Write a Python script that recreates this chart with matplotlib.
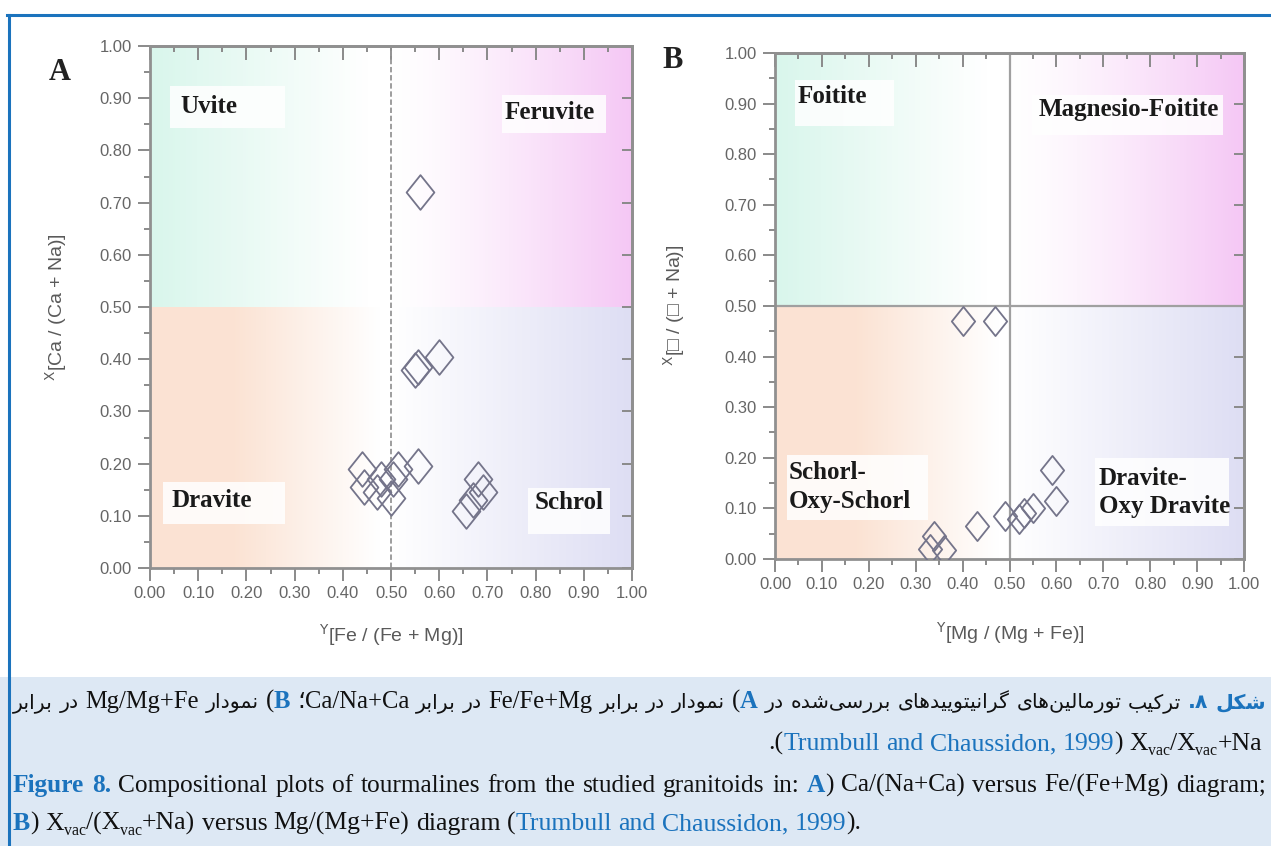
### Tourmaline classification plots (Ca/(Ca+Na) vs Fe/(Fe+Mg) and X-vacancy vs Mg/(Mg+Fe))

import numpy as np
import matplotlib.pyplot as plt
from matplotlib.path import Path
from matplotlib.patches import Rectangle
from matplotlib.lines import Line2D
from matplotlib.ticker import MultipleLocator, FormatStrFormatter, NullFormatter
from matplotlib.transforms import IdentityTransform

# Diagram A: Y[Fe/(Fe+Mg)] vs X[Ca/(Ca+Na)]
fe_ratio = [0.56, 0.55, 0.555, 0.60, 0.44, 0.445, 0.47, 0.48, 0.50, 0.505, 0.515, 0.555, 0.68, 0.69, 0.655, 0.67]
ca_ratio = [0.72, 0.38, 0.385, 0.405, 0.19, 0.155, 0.145, 0.17, 0.135, 0.17, 0.19, 0.195, 0.17, 0.145, 0.11, 0.13]

# Diagram B: Y[Mg/(Mg+Fe)] vs X[vac/(vac+Na)]
mg_ratio = [0.40, 0.47, 0.59, 0.60, 0.55, 0.53, 0.52, 0.49, 0.43, 0.34, 0.33, 0.36]
vac_ratio = [0.47, 0.47, 0.175, 0.115, 0.10, 0.09, 0.08, 0.085, 0.065, 0.045, 0.02, 0.017]

ticks = np.arange(0, 1.01, 0.1)

labels_a = ['Uvite', 'Feruvite', 'Dravite', 'Schrol']
labels_b = ['Foitite', 'Magnesio-Foitite', 'Schorl-\nOxy-Schorl', 'Dravite-\nOxy Dravite']

W, H = 1271, 846
BLUE = '#1b73bd'
fig = plt.figure(figsize=(W / 100, H / 100), dpi=100)
fig.patch.set_facecolor('white')

def fx(px):
    return px / W

def fy(py):
    return 1 - py / H

# caption band and blue frame
fig.patches.append(Rectangle((0, 0), 1, fy(677), transform=fig.transFigure,
                             facecolor='#dde8f4', edgecolor='none', zorder=0))
fig.lines.append(Line2D([fx(7), 1], [fy(15), fy(15)], transform=fig.transFigure,
                        color=BLUE, lw=2.2))
fig.lines.append(Line2D([fx(8.5), fx(8.5)], [0, fy(15)], transform=fig.transFigure,
                        color=BLUE, lw=2.2))

diamond = Path([(0, 1), (0.8, 0), (0, -1), (-0.8, 0), (0, 1)],
               [Path.MOVETO, Path.LINETO, Path.LINETO, Path.LINETO, Path.CLOSEPOLY])


def shade(ax, x0, y0, rgb, fade):
    t = np.linspace(0, 1, 256)
    a = fade(t)
    col = 1 - (1 - np.array(rgb))[None, :] * a[:, None]
    ax.imshow(col[None, :, :], extent=(x0, x0 + 0.5, y0, y0 + 0.5), aspect='auto',
              interpolation='bilinear', zorder=0)


def setup(ax):
    shade(ax, 0.0, 0.5, (0.85, 0.965, 0.925), lambda t: np.clip(1 - t / 0.9, 0, 1))
    shade(ax, 0.5, 0.5, (0.96, 0.78, 0.96), lambda t: t ** 1.3)
    shade(ax, 0.0, 0.0, (0.985, 0.89, 0.83), lambda t: np.clip((0.95 - t) / 0.6, 0, 1))
    shade(ax, 0.5, 0.0, (0.87, 0.87, 0.955), lambda t: t)
    ax.set_xlim(0, 1)
    ax.set_ylim(0, 1)
    for s in ax.spines.values():
        s.set_color('#909090')
        s.set_linewidth(2)
    ax.set_xticks(ticks)
    ax.set_yticks(ticks)
    ax.xaxis.set_minor_locator(MultipleLocator(0.05))
    ax.yaxis.set_minor_locator(MultipleLocator(0.05))
    ax.xaxis.set_major_formatter(FormatStrFormatter('%.2f'))
    ax.yaxis.set_major_formatter(FormatStrFormatter('%.2f'))
    ax.tick_params(which='both', direction='out', color='#8a8a8a', width=1.4,
                   labelcolor='#666666', labelsize=12)
    ax.tick_params(which='major', length=9, pad=4)
    ax.tick_params(which='minor', length=4.5)
    for lab in ax.get_xticklabels() + ax.get_yticklabels():
        lab.set_fontfamily('Liberation Sans')
    top = ax.secondary_xaxis('top')
    top.set_xticks(ticks)
    top.xaxis.set_minor_locator(MultipleLocator(0.05))
    top.xaxis.set_major_formatter(NullFormatter())
    top.tick_params(which='both', direction='in', color='#8a8a8a', width=1.4)
    top.tick_params(which='major', length=10)
    top.tick_params(which='minor', length=4)
    top.spines['top'].set_color('#909090')
    top.spines['top'].set_linewidth(2)
    right = ax.secondary_yaxis('right')
    right.set_yticks(ticks)
    right.yaxis.set_major_formatter(NullFormatter())
    right.tick_params(which='both', direction='in', color='#8a8a8a', width=1.4, length=7)
    right.spines['right'].set_color('#909090')
    right.spines['right'].set_linewidth(2)


def box(ax, x0, x1, y0, y1):
    ax.add_patch(Rectangle((x0, y0), x1 - x0, y1 - y0, facecolor='white',
                           edgecolor='none', alpha=0.85, zorder=3))


lab_kw = dict(fontfamily='Liberation Serif', fontweight='bold', fontsize=18,
              color='#1a1a1a', zorder=4, va='center')

# ---- panel A
axA = fig.add_axes([fx(150), fy(568), fx(632) - fx(150), fy(46) - fy(568)])
setup(axA)
axA.axvline(0.5, color='#959595', lw=1.3, ls=(0, (3, 1.5)), zorder=2)
box(axA, 0.041, 0.28, 0.843, 0.923)
box(axA, 0.73, 0.946, 0.833, 0.906)
box(axA, 0.027, 0.28, 0.084, 0.165)
box(axA, 0.785, 0.954, 0.065, 0.153)
axA.text(0.063, 0.885, labels_a[0], ha='left', **lab_kw)
axA.text(0.83, 0.872, labels_a[1], ha='center', **lab_kw)
axA.text(0.045, 0.13, labels_a[2], ha='left', **lab_kw)
axA.text(0.87, 0.125, labels_a[3], ha='center', **lab_kw)
axA.plot(fe_ratio, ca_ratio, ls='none', marker=diamond, ms=25, mfc='none',
         mec='#74748a', mew=1.3, zorder=5)

# ---- panel B
axB = fig.add_axes([fx(775), fy(559), fx(1244) - fx(775), fy(53) - fy(559)])
setup(axB)
axB.axvline(0.5, color='#a0a0a0', lw=1.6, zorder=2)
axB.axhline(0.5, color='#a0a0a0', lw=1.6, zorder=2)
box(axB, 0.043, 0.253, 0.856, 0.947)
box(axB, 0.548, 0.956, 0.838, 0.917)
box(axB, 0.026, 0.326, 0.077, 0.206)
box(axB, 0.682, 0.969, 0.065, 0.20)
axB.text(0.047, 0.915, labels_b[0], ha='left', **lab_kw)
axB.text(0.755, 0.889, labels_b[1], ha='center', **lab_kw)
axB.text(0.03, 0.142, labels_b[2], ha='left', linespacing=1.3, **lab_kw)
axB.text(0.69, 0.132, labels_b[3], ha='left', linespacing=1.3, **lab_kw)
axB.plot(mg_ratio, vac_ratio, ls='none', marker=diamond, ms=21, mfc='none',
         mec='#74748a', mew=1.3, zorder=5)

# panel letters and axis titles
fig.text(fx(60), fy(73), 'A', fontfamily='Liberation Serif', fontweight='bold',
         fontsize=22, color='#222222', ha='center', va='center')
fig.text(fx(673), fy(60), 'B', fontfamily='Liberation Serif', fontweight='bold',
         fontsize=22, color='#222222', ha='center', va='center')
ax_kw = dict(fontfamily=['Liberation Sans', 'DejaVu Sans'], fontsize=14,
             color='#5a5a5a', ha='center', va='center')
fig.text(fx(391), fy(635), r'${}^{\mathsf{Y}}$[Fe / (Fe + Mg)]', **ax_kw)
fig.text(fx(56), fy(307), r'${}^{\mathsf{X}}$[Ca / (Ca + Na)]', rotation=90, **ax_kw)
fig.text(fx(1010), fy(633), r'${}^{\mathsf{Y}}$[Mg / (Mg + Fe)]', **ax_kw)
fig.text(fx(674), fy(305), r'${}^{\mathsf{X}}$[□ / (□ + Na)]', rotation=90, **ax_kw)

# ---- caption
FA_FORMS = {
    'ا': ('\uFE8D', '\uFE8E', None, None),
    'ب': ('\uFE8F', '\uFE90', '\uFE91', '\uFE92'),
    'ت': ('\uFE95', '\uFE96', '\uFE97', '\uFE98'),
    'د': ('\uFEA9', '\uFEAA', None, None),
    'ر': ('\uFEAD', '\uFEAE', None, None),
    'س': ('\uFEB1', '\uFEB2', '\uFEB3', '\uFEB4'),
    'ش': ('\uFEB5', '\uFEB6', '\uFEB7', '\uFEB8'),
    'ل': ('\uFEDD', '\uFEDE', '\uFEDF', '\uFEE0'),
    'م': ('\uFEE1', '\uFEE2', '\uFEE3', '\uFEE4'),
    'ن': ('\uFEE5', '\uFEE6', '\uFEE7', '\uFEE8'),
    'ه': ('\uFEE9', '\uFEEA', '\uFEEB', '\uFEEC'),
    'و': ('\uFEED', '\uFEEE', None, None),
    'ی': ('\uFBFC', '\uFBFD', '\uFBFE', '\uFBFF'),
    'ک': ('\uFB8E', '\uFB8F', '\uFB90', '\uFB91'),
    'گ': ('\uFB92', '\uFB93', '\uFB94', '\uFB95'),
}


def shape_fa(word):
    # contextual letter forms, returned in visual (left-to-right) order
    out = []
    for i, c in enumerate(word):
        if c not in FA_FORMS:
            if c != '\u200c':
                out.append(c)
            continue
        prev = word[i - 1] if i > 0 else ''
        nxt = word[i + 1] if i + 1 < len(word) else ''
        joins_prev = prev in FA_FORMS and FA_FORMS[prev][2] is not None
        joins_next = FA_FORMS[c][2] is not None and nxt in FA_FORMS
        iso, fin, ini, med = FA_FORMS[c]
        if joins_prev and joins_next:
            out.append(med)
        elif joins_prev:
            out.append(fin)
        elif joins_next:
            out.append(ini)
        else:
            out.append(iso)
    return ''.join(out[::-1])


def is_fa(s):
    return any('\u0600' <= c <= '\u06ff' for c in s)


def rtl_visual(words):
    vis = []
    for w in words[::-1]:
        pieces = []
        for text, st in w[::-1]:
            if is_fa(text) and st.startswith('fa'):
                text = shape_fa(text)
            elif all(c in '()' for c in text):
                text = text.translate(str.maketrans('()', ')('))
            pieces.append((text, st))
        vis.append(pieces)
    return vis


STYLES = {
    'en': dict(fontfamily=['Liberation Serif', 'DejaVu Sans'], color='#111111'),
    'enb': dict(fontfamily='Liberation Serif', fontweight='bold', color=BLUE),
    'blue': dict(fontfamily='Liberation Serif', color=BLUE),
    'sub': dict(fontfamily='Liberation Serif', color='#111111'),
    'fa': dict(fontfamily='DejaVu Sans', color='#111111'),
    'fab': dict(fontfamily='DejaVu Sans', fontweight='bold', color=BLUE),
}

renderer = fig.canvas.get_renderer()


def draw_line(words, base_py, x0, x1, size, fa_size, justify=True, align='left'):
    ydisp = H - base_py
    items = []
    widths = []
    for w in words:
        arts = []
        ww = 0
        for text, st in w:
            fs = fa_size if st.startswith('fa') else size
            dy = 0
            if st == 'sub':
                fs = size * 0.62
                dy = -0.2 * size * 100 / 72
            t = fig.text(0, ydisp + dy, text, fontsize=fs, va='baseline',
                         transform=IdentityTransform(), **STYLES[st])
            tw = t.get_window_extent(renderer).width
            arts.append((t, ww, dy))
            ww += tw
        items.append(arts)
        widths.append(ww)
    space = 0.25 * size * 100 / 72
    natural = sum(widths) + space * (len(words) - 1)
    if justify and natural > (x1 - x0):
        # too long for the column: shrink and lay out again
        for arts in items:
            for t, _, _ in arts:
                t.remove()
        k = (x1 - x0) / natural * 0.99
        return draw_line(words, base_py, x0, x1, size * k, fa_size * k, justify, align)
    gap = space
    if justify and len(words) > 1:
        gap = (x1 - x0 - sum(widths)) / (len(words) - 1)
    start = x0 if (align == 'left' or justify) else x1 - natural
    x = start
    for arts, ww in zip(items, widths):
        for t, off, dy in arts:
            t.set_position((x + off, ydisp + dy))
        x += ww + gap


def words_of(pieces):
    words = [[]]
    for text, st in pieces:
        parts = text.split(' ')
        for k, p in enumerate(parts):
            if k > 0:
                words.append([])
            if p:
                words[-1].append((p, st))
    return [w for w in words if w]


fa_line1 = words_of([
    ('شکل ۸.', 'fab'),
    (' ترکیب تورمالین‌های گرانیتوییدهای بررسی‌شده در ', 'fa'),
    ('A', 'enb'), (') ', 'en'),
    ('نمودار در برابر ', 'fa'), ('Fe/Fe+Mg ', 'en'), ('در برابر ', 'fa'),
    ('Ca/Na+Ca', 'en'), ('؛ ', 'en'), ('B', 'enb'), (') ', 'en'),
    ('نمودار ', 'fa'), ('Mg/Mg+Fe ', 'en'), ('در برابر', 'fa'),
])
draw_line(rtl_visual(fa_line1), 708, 13, 1266, 18, 15, justify=True)

fa_line2 = words_of([
    ('.(', 'en'), ('Trumbull and Chaussidon, 1999', 'blue'), (') X', 'en'),
    ('vac', 'sub'), ('/X', 'en'), ('vac', 'sub'), ('+Na', 'en'),
])
draw_line(fa_line2, 750, 13, 1262, 18.5, 15, justify=False, align='right')

en_line1 = words_of([
    ('Figure 8.', 'enb'),
    (' Compositional plots of tourmalines from the studied granitoids in: ', 'en'),
    ('A', 'enb'), (') Ca/(Na+Ca) versus Fe/(Fe+Mg) diagram;', 'en'),
])
draw_line(en_line1, 792, 13, 1266, 18.5, 15, justify=True)

en_line2 = words_of([
    ('B', 'enb'), (') X', 'en'), ('vac', 'sub'), ('/(X', 'en'), ('vac', 'sub'),
    ('+Na) versus Mg/(Mg+Fe) diagram (', 'en'),
    ('Trumbull and Chaussidon, 1999', 'blue'), (').', 'en'),
])
draw_line(en_line2, 830, 13, 1266, 18.5, 15, justify=False)

fig.savefig('out.png', dpi=100)
